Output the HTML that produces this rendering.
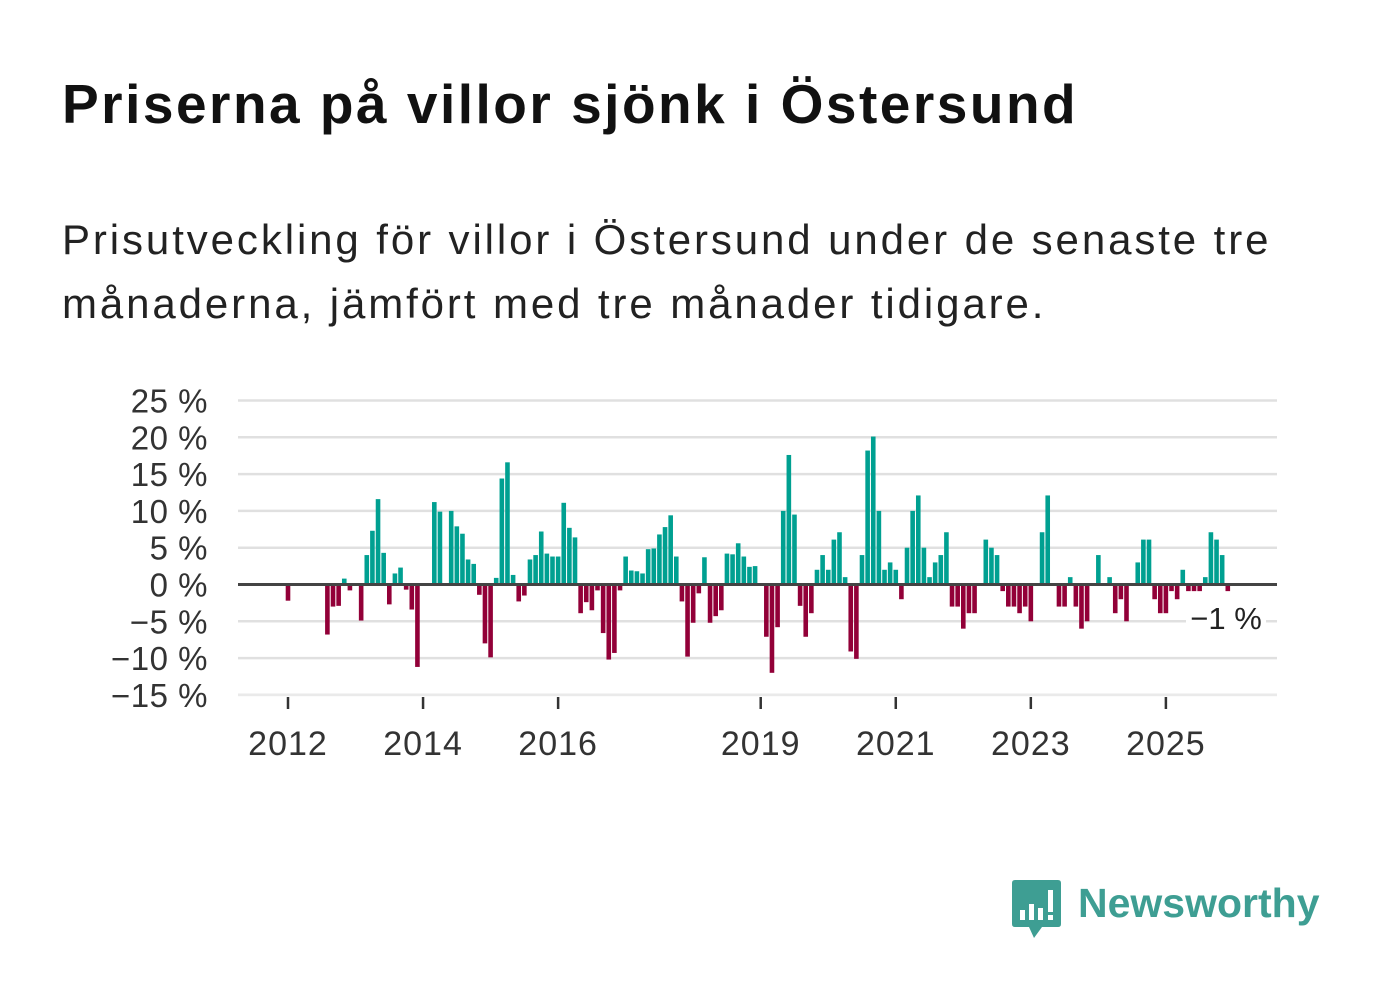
<!DOCTYPE html>
<html><head><meta charset="utf-8"><style>
body{margin:0;background:#fff;width:1382px;height:999px;overflow:hidden;font-family:"Liberation Sans",sans-serif;}
.t{position:absolute;left:62px;top:72px;font-size:55px;font-weight:bold;color:#111;letter-spacing:2.5px;white-space:nowrap}
.s{position:absolute;left:62px;top:208px;font-size:42px;color:#222;line-height:64px;width:1260px;letter-spacing:2.9px}
</style></head><body>
<div class="t">Priserna på villor sjönk i Östersund</div>
<div class="s">Prisutveckling för villor i Östersund under de senaste tre månaderna, jämfört med tre månader tidigare.</div>
<svg id="c" width="1382" height="999" style="position:absolute;left:0;top:0"></svg>
<div style="position:absolute;left:1012px;top:880px;">
<svg width="50" height="60"><path d="M3 0H46Q49 0 49 3V44Q49 47 46 47H30L22 58L17 47H3Q0 47 0 44V3Q0 0 3 0Z" fill="#3e9e93"/><rect x="8" y="30" width="5" height="10" fill="#fff"/><rect x="17" y="24" width="5" height="16" fill="#fff"/><rect x="26" y="28" width="5" height="12" fill="#fff"/><rect x="36" y="10" width="5" height="22" fill="#fff"/><rect x="36" y="35" width="5" height="5" fill="#fff"/></svg>
<span style="position:absolute;left:66px;top:0px;font-size:41px;font-weight:bold;color:#3e9e93;white-space:nowrap">Newsworthy</span>
</div>
<script>
const values=[-2.2,0,0,0,0,0,0,-6.8,-3.0,-2.9,0.8,-0.8,0,-4.9,4.0,7.3,11.6,4.3,-2.7,1.5,2.3,-0.7,-3.4,-11.2,0,0,11.2,9.9,0,10.0,7.9,6.9,3.4,2.8,-1.4,-8.0,-9.9,0.9,14.4,16.6,1.3,-2.3,-1.5,3.4,4.0,7.2,4.2,3.8,3.8,11.1,7.7,6.4,-3.9,-2.4,-3.5,-0.8,-6.6,-10.2,-9.3,-0.8,3.8,1.9,1.8,1.5,4.8,4.9,6.8,7.8,9.4,3.8,-2.3,-9.8,-5.2,-1.2,3.7,-5.2,-4.3,-3.5,4.2,4.1,5.6,3.8,2.4,2.5,0,-7.1,-12.0,-5.8,10.0,17.6,9.5,-2.9,-7.1,-3.9,2.0,4.0,2.0,6.1,7.1,1.0,-9.1,-10.1,4.0,18.2,20.1,10.0,2.0,3.0,2.0,-2.0,5.0,10.0,12.1,5.0,1.0,3.0,4.0,7.1,-3.0,-3.0,-6.0,-3.9,-3.9,0,6.1,5.0,4.0,-0.9,-3.0,-3.0,-3.9,-3.0,-5.0,0,7.1,12.1,0,-3.0,-3.0,1.0,-3.0,-6.0,-5.0,0,4.0,0,1.0,-3.9,-2.0,-5.0,0,3.0,6.1,6.1,-2.0,-3.9,-3.9,-0.9,-2.0,2.0,-0.9,-0.9,-0.9,1.0,7.1,6.1,4.0,-0.9];
const startYear=2012;
const yTicks=[25,20,15,10,5,0,-5,-10,-15];
const xTickYears=[2012,2014,2016,2019,2021,2023,2025];
const lastLabel="−1 %";
const svg=document.getElementById('c');const NS='http://www.w3.org/2000/svg';
const X0=238,X1=1277;
function x(yr){return 288+(yr-2012)*67.53;}
function y(v){return 584.5-v*7.36;}
function mk(t,a){const e=document.createElementNS(NS,t);for(const k in a)e.setAttribute(k,a[k]);svg.appendChild(e);return e;}
yTicks.forEach(v=>{
 if(v!==0){const g=mk('line',{x1:X0,x2:X1,y1:y(v),y2:y(v),stroke:'#e0e0e0','stroke-width':2.5});
 
 }
 const t=mk('text',{x:208,y:y(v)+12,'text-anchor':'end','font-size':33,fill:'#333','font-family':'Liberation Sans, sans-serif','letter-spacing':'0.5'});
 t.textContent=(v<0?'−'+(-v):v)+' %';
 
 
});
values.forEach((v,i)=>{
 if(v===0)return;
 const cx=x(startYear+i/12);
 const r=mk('rect',{x:cx-2.3,width:4.6,y:Math.min(y(v),y(0)),height:Math.abs(y(v)-y(0)),fill:v>0?'#00a091':'#920038'});
 
 
});
const z=mk('line',{x1:X0,x2:X1,y1:y(0),y2:y(0),stroke:'#444','stroke-width':3});


const base=mk('line',{x1:X0,x2:X1,y1:695,y2:695,stroke:'#eee','stroke-width':1.5});


xTickYears.forEach(yr=>{
 const tk=mk('line',{x1:x(yr),x2:x(yr),y1:697,y2:709,stroke:'#333','stroke-width':2.5});
 
 
 const t=mk('text',{x:x(yr),y:755,'text-anchor':'middle','font-size':34,fill:'#333','font-family':'Liberation Sans, sans-serif','letter-spacing':'1'});
 t.textContent=yr;
 
 
});
const bg=mk('rect',{x:1186,y:601,width:80,height:34,fill:'#fff'});


const lt=mk('text',{x:1226,y:629,'text-anchor':'middle','font-size':31,fill:'#222','font-family':'Liberation Sans, sans-serif'});
lt.textContent=lastLabel;


</script>
</body></html>
